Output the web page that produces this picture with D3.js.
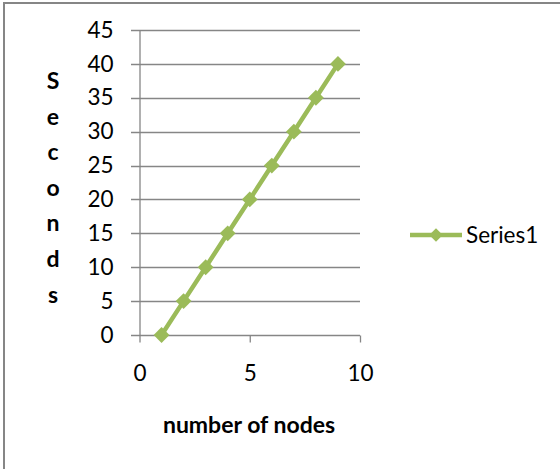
<!DOCTYPE html>
<html>
<head>
<meta charset="utf-8">
<script src="https://cdn.jsdelivr.net/npm/d3@7"></script>
<style>
    body { margin: 0; background: #fff; }
    text { font-family: Lato, "Liberation Sans", sans-serif; fill: #000; }
</style>
</head>
<body>
<script>

// SVG size
const w = 560;
const h = 469;

// Chart data
const nodes = [1, 2, 3, 4, 5, 6, 7, 8, 9];
const seconds = [0, 5, 10, 15, 20, 25, 30, 35, 40];
const xTicks = [0, 5, 10];
const yTicks = [0, 5, 10, 15, 20, 25, 30, 35, 40, 45];
const seriesName = "Series1";
const xTitle = "number of nodes";
const yTitle = "Seconds";

const green = "#9bbb59";
const grey = "#868686";

const data = nodes.map((n, i) => ({ x: n, y: seconds[i] }));

// Scales
const xScale = d3.scaleLinear()
    .domain([0, 10])
    .range([139.5, 360]);

const yScale = d3.scaleLinear()
    .domain([0, 45])
    .range([335, 30]);

// Create SVG
const svg = d3.select("body")
    .append("svg")
    .attr("width", w)
    .attr("height", h);

// Chart border
svg.append("rect")
    .attr("x", 4)
    .attr("y", 3)
    .attr("width", w + 10)
    .attr("height", h + 10)
    .attr("fill", "none")
    .attr("stroke", grey)
    .attr("stroke-width", 2);

// Gridlines
svg.append("g")
    .selectAll("line")
    .data(yTicks)
    .join("line")
    .attr("x1", 131)
    .attr("x2", 360)
    .attr("y1", d => Math.round(yScale(d)) + 0.5)
    .attr("y2", d => Math.round(yScale(d)) + 0.5)
    .attr("stroke", grey)
    .attr("stroke-width", 1.3);

// Y axis
const leftAxis = d3.axisLeft(yScale)
    .tickValues(yTicks)
    .tickSize(0)
    .tickPadding(26);

svg.append("g")
    .attr("transform", "translate(139.5, 0)")
    .call(leftAxis)
    .call(g => g.select(".domain").attr("stroke", grey).attr("stroke-width", 1.3))
    .call(g => g.selectAll("text")
        .style("font-size", "22.5px")
        .style("font-family", "Lato, sans-serif"));

// X axis
const bottomAxis = d3.axisBottom(xScale)
    .tickValues(xTicks)
    .tickSize(7)
    .tickPadding(23);

svg.append("g")
    .attr("transform", "translate(0, 335.5)")
    .call(bottomAxis)
    .call(g => g.select(".domain").remove())
    .call(g => g.selectAll("line").attr("stroke", grey).attr("stroke-width", 1.3))
    .call(g => g.selectAll("text")
        .style("font-size", "22.5px")
        .style("font-family", "Lato, sans-serif"));

// Series line
const line = d3.line()
    .x(d => xScale(d.x))
    .y(d => yScale(d.y));

svg.append("path")
    .datum(data)
    .attr("fill", "none")
    .attr("stroke", green)
    .attr("stroke-width", 4.5)
    .attr("stroke-linejoin", "round")
    .attr("d", line);

// Diamond markers
svg.append("g")
    .selectAll("path")
    .data(data)
    .join("path")
    .attr("transform", d => `translate(${xScale(d.x)}, ${yScale(d.y)}) rotate(45)`)
    .attr("d", d3.symbol().type(d3.symbolSquare).size(125))
    .attr("fill", green);

// X-axis title
svg.append("text")
    .attr("x", 249)
    .attr("y", 433)
    .attr("text-anchor", "middle")
    .style("font-size", "23px")
    .style("font-weight", "bold")
    .text(xTitle);

// Y-axis title, stacked letters
svg.append("text")
    .attr("text-anchor", "middle")
    .style("font-size", "23px")
    .style("font-weight", "bold")
    .selectAll("tspan")
    .data(yTitle.split(""))
    .join("tspan")
    .attr("x", 53)
    .attr("y", (d, i) => 89 + i * 35.6)
    .text(d => d);

// Legend
svg.append("line")
    .attr("x1", 410)
    .attr("x2", 462)
    .attr("y1", 235)
    .attr("y2", 235)
    .attr("stroke", green)
    .attr("stroke-width", 4.5);

svg.append("path")
    .attr("transform", "translate(436, 235) rotate(45)")
    .attr("d", d3.symbol().type(d3.symbolSquare).size(90))
    .attr("fill", green);

svg.append("text")
    .attr("x", 466)
    .attr("y", 243)
    .style("font-size", "22.5px")
    .text(seriesName);

</script>
</body>
</html>
